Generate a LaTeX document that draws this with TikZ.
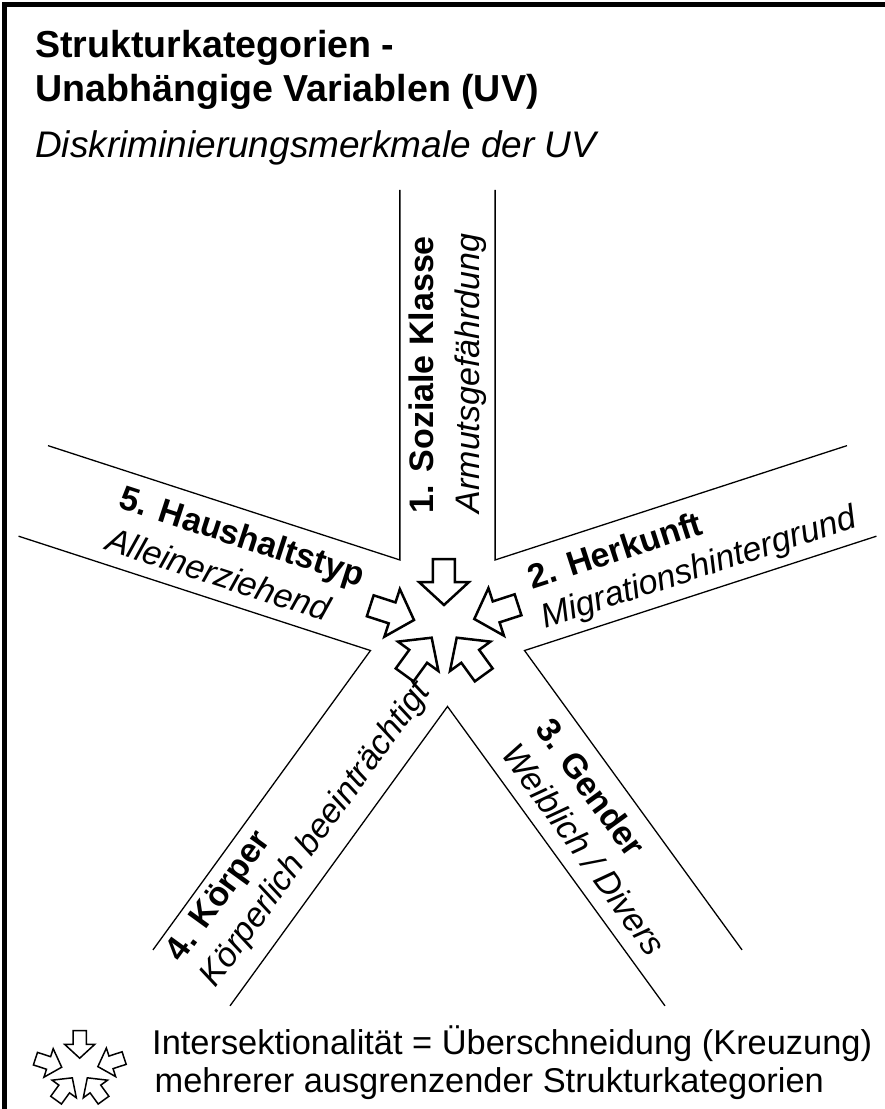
\documentclass[tikz,border=0pt]{standalone}
\usepackage{fontspec}
\setmainfont{Liberation Sans}
\usetikzlibrary{calc}

\begin{document}
\begin{tikzpicture}[x=1pt,y=1pt,
  strasse/.style={line width=1.3},
  pfeil/.style={draw,fill=white,line join=miter},
  kat/.style={font=\bfseries\fontsize{34}{40}\selectfont,inner sep=0,anchor=base west},
  merk/.style={font=\itshape\fontsize{34}{40}\selectfont,inner sep=0,anchor=base west},
  titel/.style={font=\bfseries\fontsize{37.6}{44}\selectfont,inner sep=0,anchor=base west},
  legende/.style={font=\fontsize{34.4}{40}\selectfont,inner sep=0,anchor=base west}]
\useasboundingbox (-447.5,-483.5) rectangle (436.5,625.5);
\draw[line width=5] (-443,-490) -- (-443,621) -- (440,621);

% title
\node[titel] (titel1) at (-412.5,567.5) {Strukturkategorien -};
\node[titel] (titel2) at (-412.5,523.8) {Unabhängige Variablen (UV)};
\node[merk,font=\itshape\fontsize{37}{44}\selectfont] (untertitel) at (-412.5,467.5) {Diskriminierungsmerkmale der UV};

% the five streets around the crossing
\coordinate (c) at (0,0);
\foreach \w in {54,126,198,270,342}
{
\draw[strasse] ($(c)+(\w:81)+(\w+36:370)$) -- ($(c)+(\w:81)$) -- ($(c)+(\w:81)+(\w-36:370)$);
}

% labels in the streets
\foreach \n/\dir/\rot/\ab/\kb/\mb/\kat/\merk in {
  1/90/90/112/13.5/-32.5/{1. Soziale Klasse}/{Armutsgefährdung},
  2/18/18/92/8/-33/{2. Herkunft}/{Migrationshintergrund},
  3/-54/-54/135/9/-33/{3. Gender}/{Weiblich / Divers},
  4/-126/54/430/16/-26/{4. Körper}/{Körperlich beeinträchtigt},
  5/162/-18/350/10/-34/{5. Haushaltstyp}/{Alleinerziehend}}
{
\node[kat,rotate=\rot] (kat\n) at ($(c)+(\dir:\ab)+(\rot+90:\kb)$) {\kat};
\node[merk,rotate=\rot] (merk\n) at ($(c)+(\dir:\ab)+(\rot+90:\mb)$) {\merk};
}

% hollow arrows, in the middle and in the legend
\foreach \gx/\gy/\gs/\lw in {0/0/1/2.5,-365.7/-445/0.6/1.5}
{
\foreach \dir/\px/\py in {90/-3.5/20.5,18/26.8/6.5,-54/9.2/-12.2,-126/-15.8/-12.2,162/-33.5/5.5}
{
\draw[pfeil,line width=\lw,shift={(\gx,\gy)},scale=\gs,shift={(\px,\py)},rotate=\dir]
  (0,0) -- (23,25) -- (23,11) -- (46,11) -- (46,-11) -- (23,-11) -- (23,-25) -- cycle;
}
}

% legend
\node[legende] (legende1) at (-295.5,-428.5) {Intersektionalität = Überschneidung (Kreuzung)};
\node[legende] (legende2) at (-293,-466.5) {mehrerer ausgrenzender Strukturkategorien};
\end{tikzpicture}
\end{document}
